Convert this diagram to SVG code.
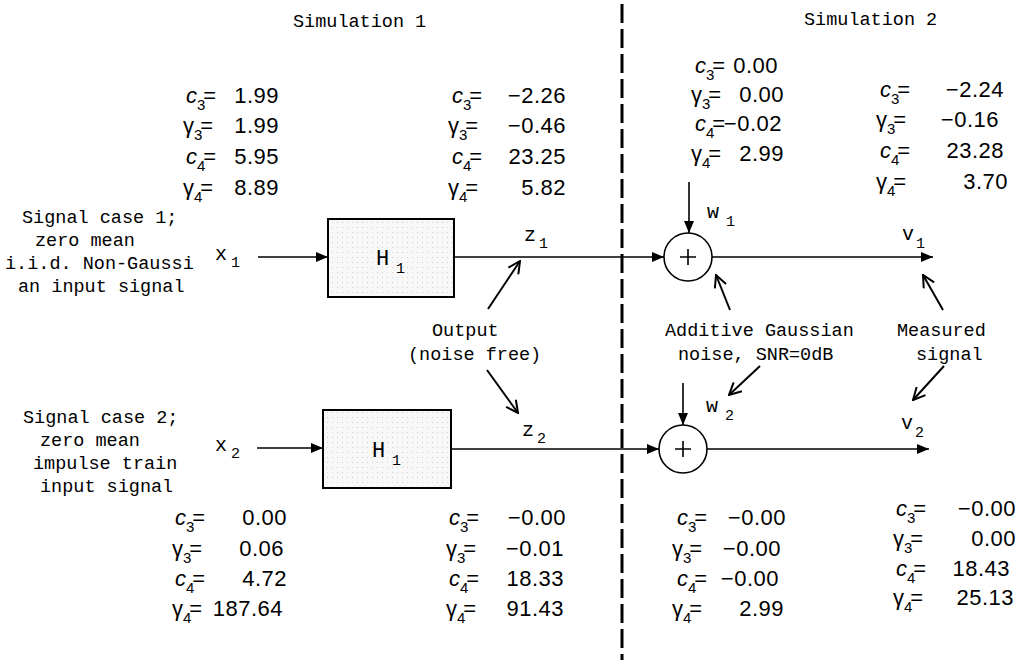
<svg xmlns="http://www.w3.org/2000/svg" width="1030" height="661" viewBox="0 0 1030 661">
<style>
.m{font-family:"Liberation Mono","DejaVu Sans Mono",monospace;font-size:18.5px;fill:#000}
.lb{font-family:"Liberation Mono","DejaVu Sans Mono",monospace;font-size:20px;fill:#000}
.ls{font-family:"Liberation Mono","DejaVu Sans Mono",monospace;font-size:15px;fill:#000}
.s{font-family:"Liberation Sans",Arial,sans-serif;font-size:22px;fill:#000}
.v{font-family:"Liberation Sans",Arial,sans-serif;font-size:22px;fill:#000;text-anchor:end;letter-spacing:0.5px}
.it{font-style:italic}
.sb{font-size:15px}
.ln{stroke:#000;stroke-width:1.6;fill:none}
.an{stroke:#000;stroke-width:2;fill:none}
.box{fill:url(#dots);stroke:#000;stroke-width:2}
.sum{fill:#fff;stroke:#000;stroke-width:1.6}
</style>
<defs>
<pattern id="dots" width="5" height="5" patternUnits="userSpaceOnUse"><rect width="5" height="5" fill="#f8f8f8"/><rect x="2" y="2" width="1" height="1" fill="#cfcfcf"/></pattern>
<marker id="arr" viewBox="0 0 12 10" refX="12" refY="5" markerWidth="12" markerHeight="10" markerUnits="userSpaceOnUse" orient="auto"><path d="M0,0 L12,5 L0,10 z" fill="#000"/></marker>
<marker id="varr" viewBox="0 0 14 14" refX="13" refY="7" markerWidth="14" markerHeight="14" markerUnits="userSpaceOnUse" orient="auto"><path d="M1,1 L13,7 L1,13" fill="none" stroke="#000" stroke-width="2"/></marker>
</defs>
<rect width="1030" height="661" fill="#fff"/>

<g id="titles">
<text class="m" x="293" y="27">Simulation 1</text>
<text class="m" x="804" y="25">Simulation 2</text>
</g>

<line id="divider" x1="622" y1="4" x2="622" y2="660" stroke="#000" stroke-width="3" stroke-dasharray="19 6"/>

<g id="stats-top-left">
<text class="s" x="186" y="103"><tspan class="it">c</tspan><tspan class="sb" dy="7">3</tspan><tspan dy="-7" dx="-2">=</tspan></text><text class="v" x="279" y="103">1.99</text>
<text class="s" x="183" y="133">γ<tspan class="sb" dy="7">3</tspan><tspan dy="-7" dx="-2">=</tspan></text><text class="v" x="279" y="133">1.99</text>
<text class="s" x="186" y="164"><tspan class="it">c</tspan><tspan class="sb" dy="7">4</tspan><tspan dy="-7" dx="-2">=</tspan></text><text class="v" x="279" y="164">5.95</text>
<text class="s" x="183" y="195">γ<tspan class="sb" dy="7">4</tspan><tspan dy="-7" dx="-2">=</tspan></text><text class="v" x="279" y="195">8.89</text>
</g>

<g id="stats-top-mid">
<text class="s" x="452" y="103"><tspan class="it">c</tspan><tspan class="sb" dy="7">3</tspan><tspan dy="-7" dx="-2">=</tspan></text><text class="v" x="566" y="103">−2.26</text>
<text class="s" x="448" y="133">γ<tspan class="sb" dy="7">3</tspan><tspan dy="-7" dx="-2">=</tspan></text><text class="v" x="566" y="133">−0.46</text>
<text class="s" x="452" y="164"><tspan class="it">c</tspan><tspan class="sb" dy="7">4</tspan><tspan dy="-7" dx="-2">=</tspan></text><text class="v" x="566" y="164">23.25</text>
<text class="s" x="448" y="195">γ<tspan class="sb" dy="7">4</tspan><tspan dy="-7" dx="-2">=</tspan></text><text class="v" x="566" y="195">5.82</text>
</g>

<g id="stats-sim2-top">
<text class="s" x="695" y="73"><tspan class="it">c</tspan><tspan class="sb" dy="7">3</tspan><tspan dy="-7" dx="-2">=</tspan></text><text class="v" x="778" y="73">0.00</text>
<text class="s" x="691" y="102">γ<tspan class="sb" dy="7">3</tspan><tspan dy="-7" dx="-2">=</tspan></text><text class="v" x="784" y="102">0.00</text>
<text class="s" x="695" y="131"><tspan class="it">c</tspan><tspan class="sb" dy="7">4</tspan><tspan dy="-7" dx="-2">=</tspan></text><text class="v" x="782" y="131">−0.02</text>
<text class="s" x="691" y="161">γ<tspan class="sb" dy="7">4</tspan><tspan dy="-7" dx="-2">=</tspan></text><text class="v" x="784" y="161">2.99</text>
</g>

<g id="stats-top-right">
<text class="s" x="880" y="97"><tspan class="it">c</tspan><tspan class="sb" dy="7">3</tspan><tspan dy="-7" dx="-2">=</tspan></text><text class="v" x="1004" y="97">−2.24</text>
<text class="s" x="876" y="127">γ<tspan class="sb" dy="7">3</tspan><tspan dy="-7" dx="-2">=</tspan></text><text class="v" x="999" y="127">−0.16</text>
<text class="s" x="880" y="158"><tspan class="it">c</tspan><tspan class="sb" dy="7">4</tspan><tspan dy="-7" dx="-2">=</tspan></text><text class="v" x="1004" y="158">23.28</text>
<text class="s" x="876" y="189">γ<tspan class="sb" dy="7">4</tspan><tspan dy="-7" dx="-2">=</tspan></text><text class="v" x="1008" y="189">3.70</text>
</g>

<g id="stats-bottom-left">
<text class="s" x="175" y="525"><tspan class="it">c</tspan><tspan class="sb" dy="7">3</tspan><tspan dy="-7" dx="-2">=</tspan></text><text class="v" x="287" y="525">0.00</text>
<text class="s" x="172" y="556">γ<tspan class="sb" dy="7">3</tspan><tspan dy="-7" dx="-2">=</tspan></text><text class="v" x="284" y="556">0.06</text>
<text class="s" x="175" y="586"><tspan class="it">c</tspan><tspan class="sb" dy="7">4</tspan><tspan dy="-7" dx="-2">=</tspan></text><text class="v" x="287" y="586">4.72</text>
<text class="s" x="172" y="616">γ<tspan class="sb" dy="7">4</tspan><tspan dy="-7" dx="-2">=</tspan></text><text class="v" x="283" y="616">187.64</text>
</g>

<g id="stats-bottom-mid">
<text class="s" x="449" y="525"><tspan class="it">c</tspan><tspan class="sb" dy="7">3</tspan><tspan dy="-7" dx="-2">=</tspan></text><text class="v" x="566" y="525">−0.00</text>
<text class="s" x="446" y="556">γ<tspan class="sb" dy="7">3</tspan><tspan dy="-7" dx="-2">=</tspan></text><text class="v" x="564" y="556">−0.01</text>
<text class="s" x="449" y="586"><tspan class="it">c</tspan><tspan class="sb" dy="7">4</tspan><tspan dy="-7" dx="-2">=</tspan></text><text class="v" x="564" y="586">18.33</text>
<text class="s" x="446" y="616">γ<tspan class="sb" dy="7">4</tspan><tspan dy="-7" dx="-2">=</tspan></text><text class="v" x="564" y="616">91.43</text>
</g>

<g id="stats-sim2-bottom">
<text class="s" x="677" y="525"><tspan class="it">c</tspan><tspan class="sb" dy="7">3</tspan><tspan dy="-7" dx="-2">=</tspan></text><text class="v" x="786" y="525">−0.00</text>
<text class="s" x="672" y="556">γ<tspan class="sb" dy="7">3</tspan><tspan dy="-7" dx="-2">=</tspan></text><text class="v" x="781" y="556">−0.00</text>
<text class="s" x="677" y="586"><tspan class="it">c</tspan><tspan class="sb" dy="7">4</tspan><tspan dy="-7" dx="-2">=</tspan></text><text class="v" x="779" y="586">−0.00</text>
<text class="s" x="672" y="616">γ<tspan class="sb" dy="7">4</tspan><tspan dy="-7" dx="-2">=</tspan></text><text class="v" x="784" y="616">2.99</text>
</g>

<g id="stats-bottom-right">
<text class="s" x="896" y="516"><tspan class="it">c</tspan><tspan class="sb" dy="7">3</tspan><tspan dy="-7" dx="-2">=</tspan></text><text class="v" x="1016" y="516">−0.00</text>
<text class="s" x="893" y="546">γ<tspan class="sb" dy="7">3</tspan><tspan dy="-7" dx="-2">=</tspan></text><text class="v" x="1016" y="546">0.00</text>
<text class="s" x="896" y="576"><tspan class="it">c</tspan><tspan class="sb" dy="7">4</tspan><tspan dy="-7" dx="-2">=</tspan></text><text class="v" x="1010" y="576">18.43</text>
<text class="s" x="893" y="605">γ<tspan class="sb" dy="7">4</tspan><tspan dy="-7" dx="-2">=</tspan></text><text class="v" x="1014" y="605">25.13</text>
</g>

<g id="signal-case-1">
<text class="m" x="22" y="223">Signal case 1;</text>
<text class="m" x="35" y="246">zero mean</text>
<text class="m" x="5" y="269">i.i.d. Non-Gaussi</text>
<text class="m" x="18" y="292">an input signal</text>
</g>
<g id="signal-case-2">
<text class="m" x="23" y="423">Signal case 2;</text>
<text class="m" x="40" y="446">zero mean</text>
<text class="m" x="33" y="469">impulse train</text>
<text class="m" x="40" y="492">input signal</text>
</g>

<g id="label-x1"><text class="lb" x="215" y="260">x</text><text class="ls" x="231" y="267">1</text></g>
<g id="label-x2"><text class="lb" x="215" y="451">x</text><text class="ls" x="231" y="458">2</text></g>

<g id="H1-top"><rect class="box" x="328" y="219" width="126" height="78"/><text class="lb" x="376" y="265" style="font-size:22px">H</text><text class="ls" x="396" y="273">1</text></g>
<g id="H1-bottom"><rect class="box" x="323" y="410" width="128" height="78"/><text class="lb" x="372" y="457" style="font-size:22px">H</text><text class="ls" x="392" y="465">1</text></g>

<g id="label-z1"><text class="lb" x="524" y="241">z</text><text class="ls" x="539" y="248">1</text></g>
<g id="label-z2"><text class="lb" x="522" y="436">z</text><text class="ls" x="537" y="443">2</text></g>

<g id="sum-top"><circle class="sum" cx="688" cy="257" r="24"/><path class="ln" d="M688,249 V265 M680,257 H696"/></g>
<g id="sum-bottom"><circle class="sum" cx="683" cy="449" r="24"/><path class="ln" d="M683,441 V457 M675,449 H691"/></g>

<g id="label-w1"><text class="lb" x="707" y="218">w</text><text class="ls" x="726" y="226">1</text></g>
<g id="label-w2"><text class="lb" x="706" y="412">w</text><text class="ls" x="725" y="420">2</text></g>
<g id="label-v1"><text class="lb" x="902" y="240">v</text><text class="ls" x="916" y="248">1</text></g>
<g id="label-v2"><text class="lb" x="901" y="429">v</text><text class="ls" x="915" y="437">2</text></g>

<g id="annotations">
<text class="m" x="432" y="336">Output</text>
<text class="m" x="408" y="360">(noise free)</text>
<text class="m" x="665" y="336">Additive Gaussian</text>
<text class="m" x="678" y="360">noise, SNR=0dB</text>
<text class="m" x="897" y="336">Measured</text>
<text class="m" x="916" y="360">signal</text>
</g>

<g id="connectors">
<line class="ln" x1="258" y1="257" x2="328" y2="257" marker-end="url(#arr)"/>
<line class="ln" x1="454" y1="257" x2="664" y2="257" marker-end="url(#arr)"/>
<line class="ln" x1="689" y1="182" x2="689" y2="233" marker-end="url(#arr)"/>
<line class="ln" x1="712" y1="257" x2="933" y2="257" marker-end="url(#arr)"/>
<line class="ln" x1="257" y1="448" x2="323" y2="448" marker-end="url(#arr)"/>
<line class="ln" x1="451" y1="449" x2="659" y2="449" marker-end="url(#arr)"/>
<line class="ln" x1="683" y1="383" x2="683" y2="425" marker-end="url(#arr)"/>
<line class="ln" x1="707" y1="449" x2="929" y2="449" marker-end="url(#arr)"/>
<line class="an" x1="488" y1="309" x2="520" y2="261" marker-end="url(#varr)"/>
<line class="an" x1="487" y1="370" x2="518" y2="413" marker-end="url(#varr)"/>
<line class="an" x1="730" y1="310" x2="716" y2="275" marker-end="url(#varr)"/>
<line class="an" x1="943" y1="310" x2="923" y2="275" marker-end="url(#varr)"/>
<line class="an" x1="760" y1="366" x2="729" y2="395" marker-end="url(#varr)"/>
<line class="an" x1="944" y1="366" x2="913" y2="400" marker-end="url(#varr)"/>
</g>
</svg>
